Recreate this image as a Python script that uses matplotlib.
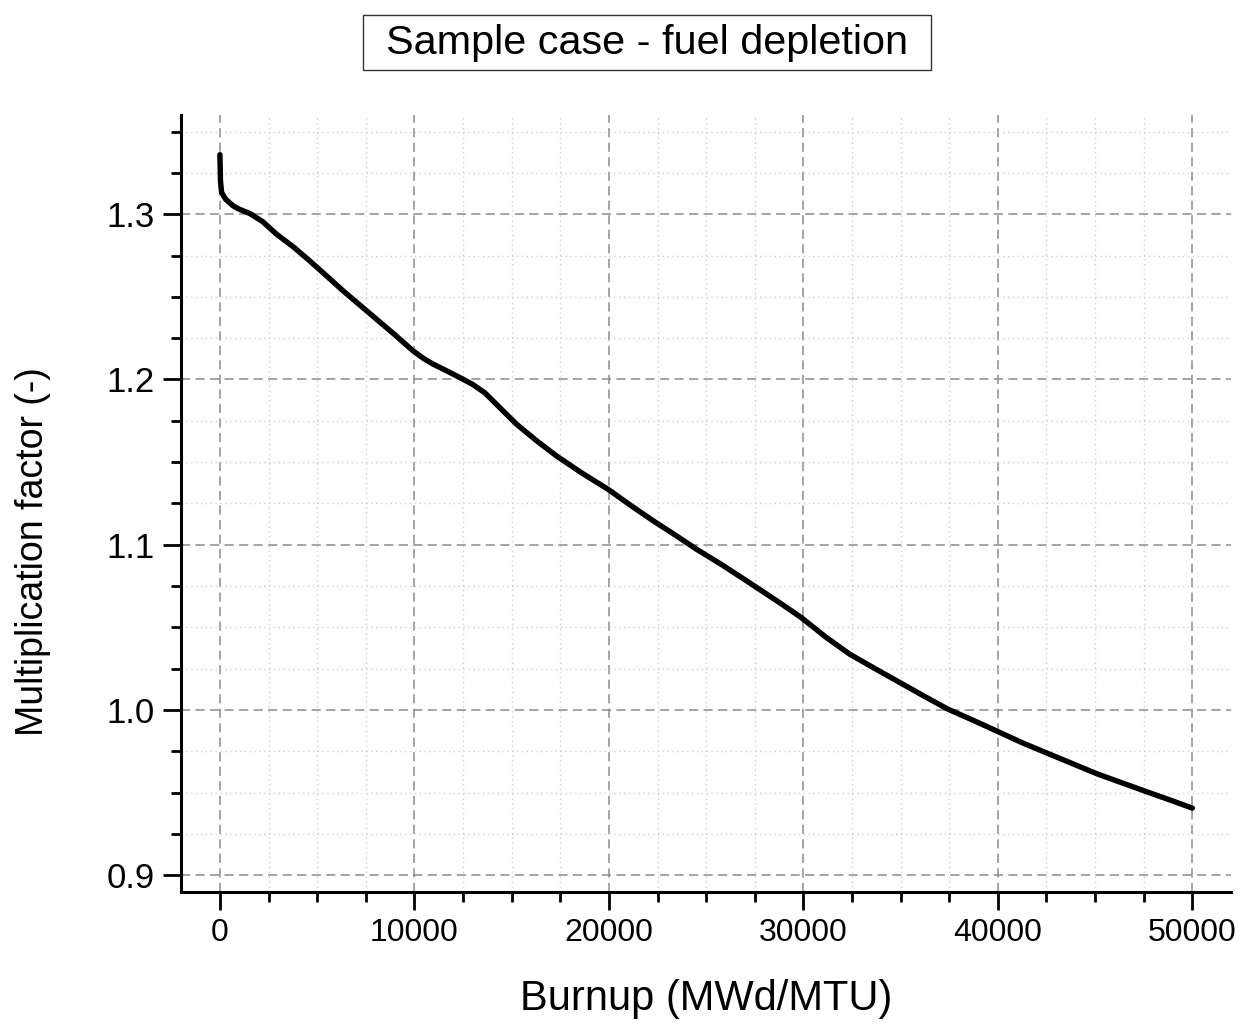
import numpy as np
import matplotlib
matplotlib.use("Agg")
import matplotlib.pyplot as plt
from matplotlib.ticker import MultipleLocator
from matplotlib.patches import Rectangle

plt.rcParams['font.family'] = ['Liberation Sans', 'DejaVu Sans']

# burnup (MWd/MTU) vs multiplication factor
burnup = [0, 30, 87, 300, 685, 1000, 1542, 2200, 2913, 3800, 4625, 5500, 6338,
          7200, 8050, 9000, 9935, 10500, 10963, 11700, 12333, 13000, 13618,
          14389, 15247, 16300, 17302, 18600, 19955, 21100, 22282, 23400,
          24510, 25800, 27080, 28777, 29890, 31175, 32374, 33700, 34943,
          36200, 37427, 38700, 39911, 41300, 42652, 43900, 45135, 46500,
          47800, 49000, 50000]
kinf = [1.3360, 1.3200, 1.3131, 1.3090, 1.3050, 1.3030, 1.3004, 1.2955,
        1.2879, 1.2800, 1.2717, 1.2625, 1.2536, 1.2450, 1.2365, 1.2270,
        1.2173, 1.2125, 1.2093, 1.2050, 1.2012, 1.1970, 1.1920, 1.1830,
        1.1730, 1.1628, 1.1538, 1.1435, 1.1336, 1.1240, 1.1145, 1.1060,
        1.0973, 1.0880, 1.0782, 1.0650, 1.0560, 1.0440, 1.0339, 1.0250,
        1.0168, 1.0085, 1.0006, 0.9940, 0.9875, 0.9800, 0.9734, 0.9673,
        0.9613, 0.9555, 0.9500, 0.9450, 0.9407]

fig = plt.figure(figsize=(12.5, 10.25), dpi=100)
ax = fig.add_axes([0.1448, 0.1298, 0.8402, 0.758])

ax.plot(burnup, kinf, color='black', lw=3.9, solid_capstyle='round',
        solid_joinstyle='round', zorder=3)

ax.set_xlim(-2000, 52000)
ax.set_ylim(0.89, 1.36)
ax.xaxis.set_major_locator(MultipleLocator(10000))
ax.xaxis.set_minor_locator(MultipleLocator(2500))
ax.yaxis.set_major_locator(MultipleLocator(0.1))
ax.yaxis.set_minor_locator(MultipleLocator(0.025))
ax.yaxis.set_major_formatter(plt.FormatStrFormatter('%.1f'))

ax.grid(which='major', color='#8c8c8c', ls=(0, (6, 3.5)), lw=1.1)
ax.grid(which='minor', color='#cfcfcf', ls=(0, (1, 2.5)), lw=1.0)
ax.set_axisbelow(True)

for s in ['top', 'right']:
    ax.spines[s].set_visible(False)
for s in ['left', 'bottom']:
    ax.spines[s].set_linewidth(2.2)

ax.tick_params(which='major', direction='out', length=13, width=2.0, pad=6)
ax.tick_params(which='minor', direction='out', length=7, width=2.0)
ax.tick_params(axis='x', which='major', labelsize=23)
ax.tick_params(axis='y', which='major', labelsize=25)

ax.set_xlabel('Burnup (MWd/MTU)', fontsize=30, labelpad=22)
ax.set_ylabel('Multiplication factor (-)', fontsize=27)
ax.yaxis.set_label_coords(-0.124, 0.4376)

# title in a framed box
fig.patches.append(Rectangle((0.2904, 0.9317), 0.4544, 0.0537,
                             transform=fig.transFigure, fc='white',
                             ec='#333333', lw=1.0))
fig.text(0.5176, 0.9585, 'Sample case - fuel depletion', fontsize=29.8,
         ha='center', va='center')

fig.savefig('out.png', dpi=100)
